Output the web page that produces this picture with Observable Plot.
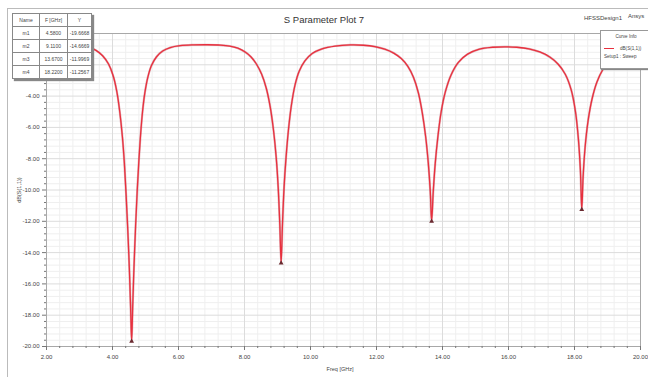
<!DOCTYPE html>
<html><head><meta charset="utf-8">
<script src="https://cdn.jsdelivr.net/npm/d3@7"></script>
<script src="https://cdn.jsdelivr.net/npm/@observablehq/plot@0.6"></script>
<style>
html,body{margin:0;padding:0;background:#fff;}
#wrap{position:relative;width:648px;height:377px;overflow:hidden;font-family:"Liberation Sans",Arial,sans-serif;color:#333;}
#border{position:absolute;left:7px;top:8px;width:650px;height:370px;border:1px solid #bbb;box-sizing:border-box;}
#chart{position:absolute;left:0;top:0;}
.ov{position:absolute;white-space:nowrap;}
#title{left:0;width:648px;top:14px;text-align:center;font-size:9.5px;color:#333;}
#design{left:584px;top:15px;font-size:6px;color:#444;}
#ansys{left:628px;top:13px;font-size:6px;color:#444;}
#ylab{left:19px;top:190px;font-size:5.5px;transform:translate(-50%,-50%) rotate(-90deg);color:#444;}
#xlab{left:340px;top:366px;font-size:5.5px;transform:translateX(-50%);color:#444;}
#mtable{left:12px;top:13px;border-collapse:collapse;background:#fff;font-size:5px;color:#444;box-shadow:2px 2px 1px #888;}
#mtable td{border:1px solid #888;height:12px;padding:0;text-align:center;}
#legend{left:600px;top:30px;width:50px;height:37px;background:#fff;border:1px solid #999;box-shadow:1px 1px 1px #888;font-size:4.6px;color:#444;}
</style></head><body>
<div id="wrap">
<div id="border"></div>
<div id="chart"></div>
</div>
<script>
// Frequency sweep (GHz) and S11 (dB)
const freqGHz = [2.0, 2.42, 2.85, 3.1, 3.3, 3.5, 3.7, 3.88, 4.02, 4.13, 4.22, 4.30, 4.36, 4.41, 4.46, 4.51, 4.55, 4.58, 4.61, 4.65, 4.70, 4.75, 4.80, 4.85, 4.91, 4.98, 5.07, 5.18, 5.33, 5.52, 5.75, 6.05, 6.45, 6.88, 7.27, 7.55, 7.80, 8.02, 8.20, 8.36, 8.52, 8.66, 8.78, 8.88, 8.96, 9.02, 9.07, 9.11, 9.15, 9.20, 9.26, 9.33, 9.42, 9.53, 9.66, 9.83, 10.05, 10.35, 10.75, 11.21, 11.60, 11.95, 12.25, 12.52, 12.75, 12.95, 13.12, 13.27, 13.39, 13.49, 13.57, 13.63, 13.67, 13.72, 13.78, 13.86, 13.96, 14.09, 14.26, 14.48, 14.76, 15.12, 15.52, 15.88, 16.25, 16.62, 16.95, 17.25, 17.50, 17.72, 17.90, 18.03, 18.12, 18.18, 18.22, 18.26, 18.32, 18.41, 18.53, 18.68, 18.86, 19.08, 19.35, 19.65, 20.0];
const s11dB = [-0.6, -0.62, -0.68, -0.76, -0.88, -1.08, -1.42, -1.95, -2.7, -3.7, -5.0, -6.6, -8.3, -10.2, -12.4, -15.0, -17.6, -19.67, -17.6, -15.0, -12.3, -10.0, -8.1, -6.5, -5.0, -3.8, -2.8, -2.05, -1.5, -1.12, -0.9, -0.78, -0.73, -0.72, -0.74, -0.8, -0.94, -1.18, -1.5, -1.95, -2.6, -3.5, -4.7, -6.2, -7.9, -9.8, -12.2, -14.67, -12.2, -9.8, -7.9, -6.2, -4.6, -3.3, -2.4, -1.75, -1.28, -0.98, -0.8, -0.73, -0.75, -0.84, -1.0, -1.25, -1.6, -2.1, -2.8, -3.8, -5.1, -6.6, -8.3, -10.1, -12.0, -10.1, -8.3, -6.6, -5.0, -3.7, -2.65, -1.85, -1.32, -1.0, -0.88, -0.85, -0.88, -0.98, -1.18, -1.5, -1.95, -2.6, -3.6, -5.0, -6.8, -8.8, -11.26, -9.2, -7.3, -5.6, -4.2, -3.1, -2.3, -1.7, -1.3, -1.08, -0.95];

// Markers
const markerNames = ["m1", "m2", "m3", "m4"];
const markerFreq = [4.58, 9.11, 13.67, 18.22];
const markerY = [-19.6668, -14.6669, -11.9969, -11.2567];
const markerFreqText = ["4.5800", "9.1100", "13.6700", "18.2200"];
const markerYText = ["-19.6668", "-14.6669", "-11.9969", "-11.2567"];

// Axes
const xTicks = [2, 4, 6, 8, 10, 12, 14, 16, 18, 20];
const yTicks = [0, -2, -4, -6, -8, -10, -12, -14, -16, -18, -20];
const yHiddenLabels = [0, -2]; // covered by the marker table in the picture

// Text
const titleText = "S Parameter Plot 7";
const designText = "HFSSDesign1";
const xLabel = "Freq [GHz]";
const yLabel = "dB(S(1,1))";
const legendTitle = "Curve Info";
const legendSeries = "dB(S(1,1))";
const legendSetup = "Setup1 : Sweep";

const data = freqGHz.map((f, i) => ({f, db: s11dB[i]}));
const markers = markerNames.map((n, i) => ({n, f: markerFreq[i], db: markerY[i]}));
const xMinor = d3.range(20, 200.5, 4).map(v => v / 10).filter(v => !xTicks.includes(v));
const yMinor = d3.range(-200, 0.5, 4).map(v => v / 10).filter(v => !yTicks.includes(v));

const fmt = d => d.toFixed(2);
const plot = Plot.plot({
  width: 648, height: 377,
  marginLeft: 46, marginRight: 8, marginTop: 33, marginBottom: 31,
  style: {fontFamily: "Liberation Sans, Arial, sans-serif", fontSize: "6px", color: "#444", background: "transparent"},
  x: {domain: [2, 20]},
  y: {domain: [-20, 0]},
  marks: [
    Plot.ruleX(xMinor, {stroke: "#efefef", strokeWidth: 1}),
    Plot.ruleY(yMinor, {stroke: "#efefef", strokeWidth: 1}),
    Plot.ruleX(xTicks, {stroke: "#dcdcdc", strokeWidth: 1}),
    Plot.ruleY(yTicks, {stroke: "#dcdcdc", strokeWidth: 1}),
    Plot.frame({stroke: "#a8a8a8"}),
    Plot.axisX(xMinor, {tickSize: 2, tickFormat: () => "", label: null, stroke: "#777"}),
    Plot.axisX(xTicks, {tickSize: 4, tickPadding: 4, tickFormat: fmt, label: null, stroke: "#777"}),
    Plot.axisY(yMinor, {tickSize: 2, tickFormat: () => "", label: null, stroke: "#777"}),
    Plot.axisY(yTicks, {tickSize: 4, tickPadding: 3, tickFormat: d => yHiddenLabels.includes(d) ? "" : fmt(d), label: null, stroke: "#777"}),
    Plot.line(data, {x: "f", y: "db", stroke: "#b02838", strokeWidth: 2.2, strokeOpacity: 0.35, curve: "catmull-rom"}),
    Plot.line(data, {x: "f", y: "db", stroke: "#e8303e", strokeWidth: 1.3, curve: "catmull-rom"}),
    Plot.dot(markers, {x: "f", y: "db", r: 1.8, fill: "#6a2a30", symbol: "triangle"})
  ]
});
document.getElementById("chart").appendChild(plot);

const wrap = document.getElementById("wrap");
function ov(id, html) {
  const d = document.createElement("div");
  d.className = "ov"; d.id = id; d.innerHTML = html;
  wrap.appendChild(d); return d;
}
ov("title", titleText);
ov("design", designText);
ov("ansys", "Ansys");
ov("ylab", yLabel);
ov("xlab", xLabel);

// Marker table
const tbl = document.createElement("table");
tbl.className = "ov"; tbl.id = "mtable";
const colW = [26, 27, 23];
let rows = [["Name", "F [GHz]", "Y"]].concat(markerNames.map((n, i) => [n, markerFreqText[i], markerYText[i]]));
tbl.innerHTML = rows.map(r => "<tr>" + r.map((c, j) => `<td style="width:${colW[j]}px">${c}</td>`).join("") + "</tr>").join("");
wrap.appendChild(tbl);

// Legend box
const lg = ov("legend", "");
lg.innerHTML = `<div style="text-align:center;margin-top:3px">${legendTitle}</div>
<div style="display:flex;align-items:center;margin-top:7px;padding-left:3px"><span style="display:inline-block;width:10px;height:0;border-top:1.2px solid #e8303e;margin-right:6px"></span>${legendSeries}</div>
<div style="margin-top:3px;padding-left:3px">${legendSetup}</div>`;
</script>
</body></html>
